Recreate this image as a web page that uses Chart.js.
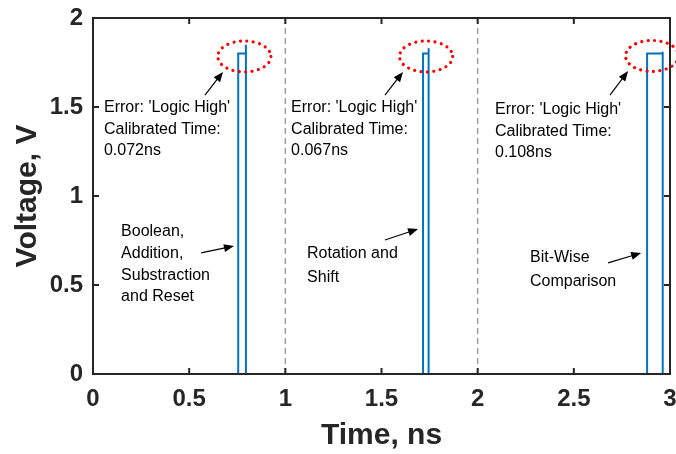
<!DOCTYPE html>
<html>
<head>
<meta charset="utf-8">
<script src="https://cdn.jsdelivr.net/npm/chart.js@4/dist/chart.umd.min.js"></script>
<style>
  html, body { margin: 0; padding: 0; background: #fff; }
  #wrap { width: 676px; height: 454px; }
</style>
</head>
<body>
<div id="wrap"><canvas id="pulseChart"></canvas></div>
<script>
// waveform (step-shaped pulses)
const timeNs   = [0, 0.755, 0.755, 0.795, 0.795, 0.795, 1.716, 1.716, 1.745, 1.745, 1.745, 2.881, 2.881, 2.962, 2.962, 2.962, 3];
const voltageV = [0, 0,     1.80,  1.80,  1.85,  0,     0,     1.80,  1.80,  1.83,  0,     0,     1.80,  1.80,  1.81,  0,     0];

const xTicks = [0, 0.5, 1, 1.5, 2, 2.5, 3];
const yTicks = [0, 0.5, 1, 1.5, 2];
const separators = [1, 2];

const errorNotes = [
  ["Error: 'Logic High'", 'Calibrated Time:', '0.072ns'],
  ["Error: 'Logic High'", 'Calibrated Time:', '0.067ns'],
  ["Error: 'Logic High'", 'Calibrated Time:', '0.108ns']
];
const opNotes = [
  ['Boolean,', 'Addition,', 'Substraction', 'and Reset'],
  ['Rotation and', 'Shift'],
  ['Bit-Wise', 'Comparison']
];

// annotation placement, in axis units
const errorPos  = [{ x: 0.057, y: 1.494 }, { x: 1.030, y: 1.494 }, { x: 2.090, y: 1.483 }];
const opPos     = [{ x: 0.146, y: 0.798 }, { x: 1.113, y: 0.674 }, { x: 2.272, y: 0.652 }];
const circles   = [{ x: 0.787, y: 1.784 }, { x: 1.732, y: 1.784 }, { x: 2.907, y: 1.787 }];
const upArrows  = [[0.582, 1.567, 0.676, 1.697], [1.518, 1.567, 1.612, 1.697], [2.688, 1.567, 2.782, 1.702]];
const opArrows  = [[0.562, 0.680, 0.733, 0.719], [1.518, 0.753, 1.690, 0.815], [2.678, 0.624, 2.850, 0.680]];

const FONT = '"Liberation Sans", Arial, sans-serif';
const AXIS = '#262626';

function arrow(ctx, x1, y1, x2, y2) {
  const ang = Math.atan2(y2 - y1, x2 - x1);
  const len = 10, half = 4;
  ctx.beginPath();
  ctx.moveTo(x1, y1);
  ctx.lineTo(x2 - Math.cos(ang) * len * 0.8, y2 - Math.sin(ang) * len * 0.8);
  ctx.stroke();
  ctx.beginPath();
  ctx.moveTo(x2, y2);
  ctx.lineTo(x2 - Math.cos(ang) * len - Math.sin(ang) * half, y2 - Math.sin(ang) * len + Math.cos(ang) * half);
  ctx.lineTo(x2 - Math.cos(ang) * len + Math.sin(ang) * half, y2 - Math.sin(ang) * len - Math.cos(ang) * half);
  ctx.closePath();
  ctx.fill();
}

const decor = {
  id: 'decor',
  beforeDatasetsDraw(chart) {
    const { ctx, chartArea: a, scales: { x } } = chart;
    ctx.save();
    ctx.strokeStyle = '#a0a0a0';
    ctx.lineWidth = 1.5;
    ctx.setLineDash([6, 4]);
    separators.forEach(v => {
      const px = x.getPixelForValue(v);
      ctx.beginPath(); ctx.moveTo(px, a.top); ctx.lineTo(px, a.bottom); ctx.stroke();
    });
    ctx.restore();
  },
  afterDatasetsDraw(chart) {
    const { ctx, chartArea: a, scales: { x, y } } = chart;
    ctx.save();

    // box and inward ticks
    ctx.strokeStyle = AXIS;
    ctx.lineWidth = 2;
    ctx.strokeRect(a.left, a.top, a.right - a.left, a.bottom - a.top);
    ctx.beginPath();
    xTicks.forEach(v => {
      const px = x.getPixelForValue(v);
      ctx.moveTo(px, a.bottom); ctx.lineTo(px, a.bottom - 6);
      ctx.moveTo(px, a.top); ctx.lineTo(px, a.top + 6);
    });
    yTicks.forEach(v => {
      const py = y.getPixelForValue(v);
      ctx.moveTo(a.left, py); ctx.lineTo(a.left + 6, py);
      ctx.moveTo(a.right, py); ctx.lineTo(a.right - 6, py);
    });
    ctx.stroke();

    // dotted red ellipses
    ctx.strokeStyle = '#ff0000';
    ctx.lineWidth = 3.2;
    ctx.lineCap = 'round';
    ctx.setLineDash([0.01, 6.4]);
    circles.forEach(c => {
      const cx = x.getPixelForValue(c.x), cy = y.getPixelForValue(c.y);
      const rx = x.getPixelForValue(c.x + 0.138) - cx;
      const ry = cy - y.getPixelForValue(c.y + 0.087);
      ctx.beginPath(); ctx.ellipse(cx, cy, rx, ry, 0, 0, Math.PI * 2); ctx.stroke();
    });
    ctx.setLineDash([]);
    ctx.lineCap = 'butt';

    // arrows
    ctx.strokeStyle = '#000';
    ctx.fillStyle = '#000';
    ctx.lineWidth = 1.2;
    upArrows.concat(opArrows).forEach(([x1, y1, x2, y2]) => {
      arrow(ctx, x.getPixelForValue(x1), y.getPixelForValue(y1), x.getPixelForValue(x2), y.getPixelForValue(y2));
    });

    // notes
    ctx.font = '16px ' + FONT;
    ctx.textAlign = 'left';
    ctx.textBaseline = 'middle';
    errorNotes.forEach((lines, i) => {
      const px = x.getPixelForValue(errorPos[i].x), py = y.getPixelForValue(errorPos[i].y);
      lines.forEach((t, k) => ctx.fillText(t, px, py + k * 21.5));
    });
    opNotes.forEach((lines, i) => {
      const px = x.getPixelForValue(opPos[i].x), py = y.getPixelForValue(opPos[i].y);
      const step = i === 0 ? 21.7 : 23.5;
      lines.forEach((t, k) => ctx.fillText(t, px, py + k * step));
    });
    ctx.restore();
  }
};

const tickFont = { family: FONT, size: 24, weight: 'bold' };
const titleFont = { family: FONT, size: 30, weight: 'bold' };

new Chart(document.getElementById('pulseChart'), {
  type: 'line',
  data: {
    datasets: [{
      data: timeNs.map((t, i) => ({ x: t, y: voltageV[i] })),
      borderColor: '#0072BD',
      borderWidth: 2,
      pointRadius: 0,
      tension: 0,
      fill: false
    }]
  },
  options: {
    responsive: true,
    maintainAspectRatio: false,
    animation: false,
    devicePixelRatio: 1,
    layout: { padding: { top: 18, right: 6, left: 0, bottom: 0 } },
    plugins: { legend: { display: false }, tooltip: { enabled: false } },
    scales: {
      x: {
        type: 'linear',
        min: 0, max: 3,
        grid: { display: false, drawTicks: false },
        border: { display: false },
        ticks: { stepSize: 0.5, padding: 11, color: AXIS, font: tickFont, maxRotation: 0, callback: v => String(v) },
        title: { display: true, text: 'Time, ns', color: AXIS, font: titleFont, padding: { top: 4, bottom: 0 } },
        afterFit: s => { s.height = 80; s.paddingLeft = 0; s.paddingRight = 0; }
      },
      y: {
        min: 0, max: 2,
        grid: { display: false, drawTicks: false },
        border: { display: false },
        ticks: { stepSize: 0.5, padding: 10, color: AXIS, font: tickFont, callback: v => String(v) },
        title: { display: true, text: 'Voltage, V', color: AXIS, font: titleFont, padding: { top: 10, bottom: 0 } },
        afterFit: s => { s.width = 93; s.paddingTop = 0; s.paddingBottom = 0; }
      }
    }
  },
  plugins: [decor]
});
</script>
</body>
</html>
